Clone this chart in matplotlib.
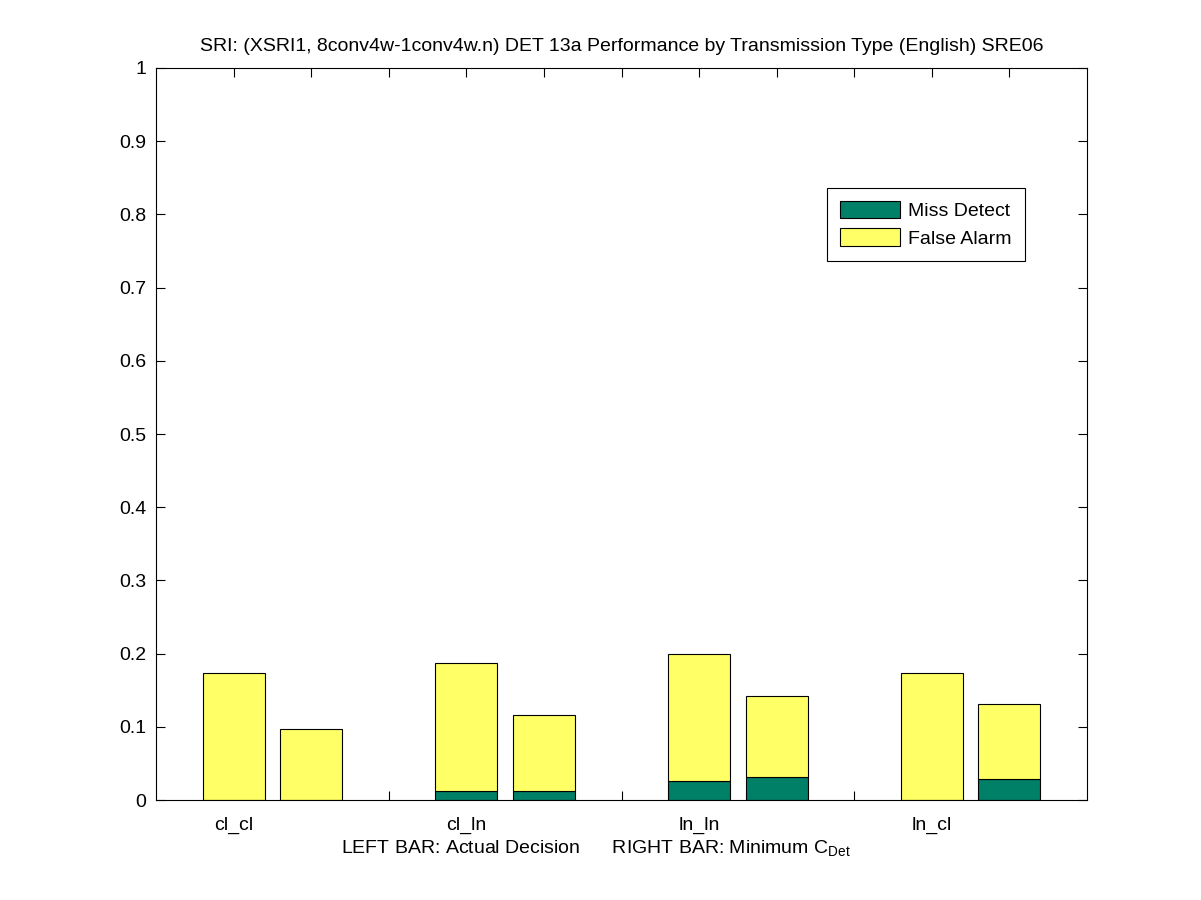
import numpy as np
import matplotlib.pyplot as plt
from matplotlib.patches import Patch

plt.rcParams['font.family'] = ['Liberation Sans', 'DejaVu Sans']
plt.rcParams['mathtext.fontset'] = 'custom'
plt.rcParams['mathtext.rm'] = 'Liberation Sans'
plt.rcParams['mathtext.it'] = 'Liberation Sans'

# Transmission types, left bar = actual decision, right bar = minimum CDet
categories = ['cl_cl', 'cl_ln', 'ln_ln', 'ln_cl']
actual_total = [0.173, 0.187, 0.200, 0.173]
actual_miss = [0.0, 0.012, 0.026, 0.0]
min_total = [0.097, 0.116, 0.142, 0.131]
min_miss = [0.0, 0.012, 0.031, 0.029]

green = (0.0, 0.5, 0.4)
yellow = (1.0, 1.0, 0.4)

fig = plt.figure(figsize=(12.01, 9.0), dpi=100)
ax = fig.add_axes([0.13, 0.111, 0.775, 0.8135])
ax.set_axisbelow(True)

left_x = np.arange(len(categories)) * 3 + 1
right_x = left_x + 1

for xs, miss, total in [(left_x, actual_miss, actual_total), (right_x, min_miss, min_total)]:
    miss = np.array(miss)
    fa = np.array(total) - miss
    xs_m = [x for x, m in zip(xs, miss) if m > 0]
    ax.bar(xs_m, miss[miss > 0], width=0.8, color=green, edgecolor='black', linewidth=0.8)
    ax.bar(xs, fa, bottom=miss, width=0.8, color=yellow, edgecolor='black', linewidth=0.8)

# legend entries
handles = [Patch(facecolor=green, edgecolor='black', linewidth=0.8, label='Miss Detect'),
           Patch(facecolor=yellow, edgecolor='black', linewidth=0.8, label='False Alarm')]

ax.set_xlim(0, 12)
ax.set_ylim(0, 1)
ticks = np.arange(1, 12)
ax.set_xticks(ticks)
ax.set_xticklabels([categories[(t - 1) // 3] if (t - 1) % 3 == 0 else '' for t in ticks])
ax.set_yticks(np.arange(0, 1.01, 0.1))
ax.set_yticklabels(['%g' % round(v, 1) for v in np.arange(0, 1.01, 0.1)])
ax.tick_params(direction='in', top=True, right=True, length=6.5, width=0.8, labelsize=14, pad=7)
ax.tick_params(axis='x', pad=12)
for s in ax.spines.values():
    s.set_linewidth(0.8)

ax.set_title('SRI: (XSRI1, 8conv4w-1conv4w.n) DET 13a Performance by Transmission Type (English) SRE06',
             fontsize=14, pad=12)
ax.set_xlabel('LEFT BAR: Actual Decision      RIGHT BAR: Minimum C$_{\\mathrm{Det}}$', fontsize=14, labelpad=3)
ax.xaxis.label.set_x(0.472)

leg = ax.legend(handles=handles, loc='upper right', bbox_to_anchor=(0.933, 0.836), borderaxespad=0,
                fontsize=14, fancybox=False, framealpha=1, edgecolor='black', handlelength=3.1,
                handleheight=1.03, borderpad=0.65, labelspacing=0.42, handletextpad=0.42)
leg.get_frame().set_linewidth(0.8)

plt.savefig('out.png', dpi=100)
